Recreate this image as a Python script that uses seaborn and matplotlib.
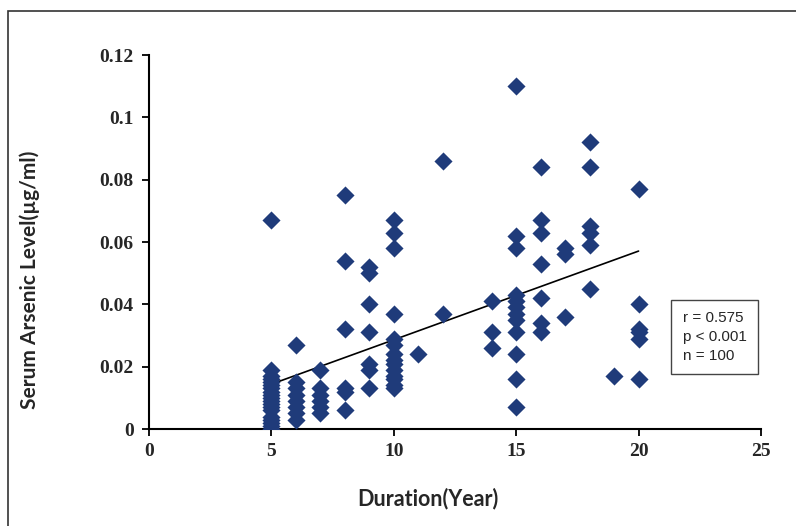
import numpy as np
import pandas as pd
import matplotlib
matplotlib.use("Agg")
import matplotlib.pyplot as plt
import seaborn as sns
from matplotlib.patches import Rectangle

# Duration (years) and serum arsenic level, column by column
# (the low clusters hold several overlapping points; n = 100 in total)
dur_5 = [0.067, 0.019, 0.017, 0.016, 0.015, 0.014, 0.013, 0.012, 0.011, 0.010,
         0.009, 0.008, 0.007, 0.006, 0.004, 0.003, 0.002, 0.001, 0.0]
dur_6 = [0.027, 0.015, 0.013, 0.011, 0.009, 0.007, 0.005, 0.003]
dur_7 = [0.019, 0.013, 0.011, 0.009, 0.007, 0.005]
dur_8 = [0.075, 0.054, 0.032, 0.013, 0.012, 0.006]
dur_9 = [0.052, 0.050, 0.040, 0.031, 0.021, 0.019, 0.013]
dur_10 = [0.067, 0.063, 0.058, 0.037, 0.029, 0.027, 0.024, 0.022, 0.021, 0.019,
          0.017, 0.016, 0.014, 0.013]
dur_11 = [0.024]
dur_12 = [0.086, 0.037]
dur_14 = [0.041, 0.031, 0.026]
dur_15 = [0.110, 0.062, 0.058, 0.043, 0.041, 0.039, 0.037, 0.035, 0.031, 0.024, 0.016, 0.007]
dur_16 = [0.084, 0.067, 0.063, 0.053, 0.042, 0.034, 0.031]
dur_17 = [0.058, 0.056, 0.036]
dur_18 = [0.092, 0.084, 0.065, 0.063, 0.059, 0.045]
dur_19 = [0.017]
dur_20 = [0.077, 0.040, 0.032, 0.031, 0.029, 0.016]

columns = {5: dur_5, 6: dur_6, 7: dur_7, 8: dur_8, 9: dur_9, 10: dur_10,
           11: dur_11, 12: dur_12, 14: dur_14, 15: dur_15, 16: dur_16,
           17: dur_17, 18: dur_18, 19: dur_19, 20: dur_20}

rows = [(yr, v) for yr, vals in columns.items() for v in vals]
df = pd.DataFrame(rows, columns=["duration", "arsenic"])

sns.set_style("ticks")

fig = plt.figure(figsize=(7.96, 5.26), dpi=100)
ax = fig.add_axes([0.187, 0.1844, 0.769, 0.711])

sns.scatterplot(data=df, x="duration", y="arsenic", marker="D", s=85,
                color="#1f3b7a", edgecolor="#1f3b7a", linewidth=0, ax=ax, zorder=3)
sns.regplot(data=df, x="duration", y="arsenic", scatter=False, ci=None,
            truncate=True, color="black", line_kws={"linewidth": 1.2}, ax=ax)

ax.set_xlim(0, 25)
ax.set_ylim(0, 0.12)
ax.set_xticks([0, 5, 10, 15, 20, 25])
ax.set_yticks([0, 0.02, 0.04, 0.06, 0.08, 0.1, 0.12])
ax.set_xticklabels(["0", "5", "10", "15", "20", "25"])
ax.set_yticklabels(["0", "0.02", "0.04", "0.06", "0.08", "0.1", "0.12"])
for lab in ax.get_xticklabels() + ax.get_yticklabels():
    lab.set_fontfamily("Liberation Serif")
    lab.set_fontweight("bold")
    lab.set_fontsize(14)
ax.tick_params(axis="both", direction="out", length=5, width=1.3, color="black", pad=6)
ax.tick_params(axis="x", pad=5)

sns.despine(ax=ax)
for side in ["left", "bottom"]:
    ax.spines[side].set_color("black")
    ax.spines[side].set_linewidth(1.5)

ax.set_xlabel("Duration(Year)", fontfamily="Lato", fontweight="bold", fontsize=15.5)
ax.set_ylabel("Serum Arsenic Level(µg/ml)", fontfamily="Lato", fontweight="bold", fontsize=15)
ax.xaxis.set_label_coords(0.456, -0.157)
ax.yaxis.set_label_coords(-0.178, 0.40)

ax.text(0.872, 0.246, "r = 0.575\np < 0.001\nn = 100", transform=ax.transAxes,
        fontfamily="Liberation Sans", fontsize=11, linespacing=1.45, va="center", ha="left",
        bbox=dict(boxstyle="square,pad=0.75", facecolor="white", edgecolor="#444444", linewidth=1))

# outer frame around the whole chart
fig.patches.append(Rectangle((8 / 796, -0.05), 1.0, 1 - 11 / 526 + 0.05, transform=fig.transFigure,
                             fill=False, edgecolor="#333333", linewidth=1.2))

fig.savefig("out.png", dpi=100, facecolor="white")
